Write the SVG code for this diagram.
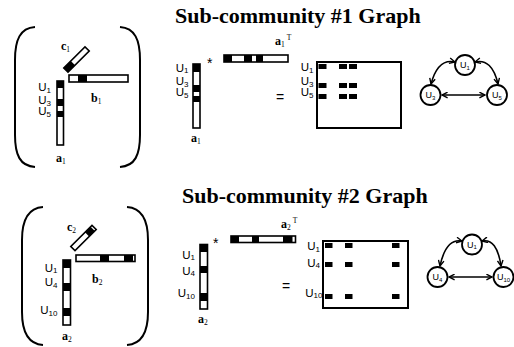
<svg xmlns="http://www.w3.org/2000/svg" width="514" height="347" viewBox="0 0 514 347">
<style>
.title{font-family:"Liberation Serif",serif;font-weight:bold;font-size:22px;fill:#000}
.bl{font-family:"Liberation Serif",serif;font-weight:bold;font-size:12px;fill:#000}
.bs{font-size:7.5px;font-weight:normal}
.u{font-family:"Liberation Sans",Arial,sans-serif;font-size:11.5px;fill:#000}
.us{font-size:8px}
.nu{font-family:"Liberation Sans",Arial,sans-serif;font-size:9px;fill:#000}
.nus{font-size:6px}
.op{font-family:"Liberation Sans",Arial,sans-serif;font-size:14px;fill:#000}
.brk{fill:none;stroke:#000;stroke-width:2}
.bar{fill:#fff;stroke:#000;stroke-width:1.6}
.blk{fill:#000}
.mat{fill:#fff;stroke:#000;stroke-width:2}
.nd{fill:#fff;stroke:#000;stroke-width:1.8}
.edge{fill:none;stroke:#000;stroke-width:1.6;marker-start:url(#ah);marker-end:url(#ah)}
</style>
<defs>
<marker id="ah" viewBox="0 0 10 10" refX="9" refY="5" markerWidth="7" markerHeight="7" markerUnits="userSpaceOnUse" orient="auto-start-reverse">
<path d="M1,1 L9,5 L1,9" fill="none" stroke="#000" stroke-width="2"/>
</marker>
</defs>

<!-- ===== Sub-community 1 ===== -->
<text class="title" x="175" y="23">Sub-community #1 Graph</text>

<g id="tensor1">
<path class="brk" d="M35,27 C20,28 15,40 15,60 L15,135 C15,155 20,166 35,167"/>
<path class="brk" d="M120,27 C135,28 140,40 140,60 L140,135 C140,155 135,166 120,167"/>
<g transform="translate(76.5,59.5) rotate(-45)">
<rect class="bar" x="-15" y="-3" width="30" height="6"/>
<rect class="blk" x="-15" y="-3" width="10" height="6"/>
</g>
<text class="bl" x="61" y="50">c<tspan class="bs" dy="2">1</tspan></text>
<rect class="bar" x="69" y="75" width="59" height="7"/>
<rect class="blk" x="78" y="75" width="9" height="7"/>
<text class="bl" x="91" y="102">b<tspan class="bs" dy="2">1</tspan></text>
<rect class="bar" x="57" y="81" width="6.5" height="64"/>
<rect class="blk" x="57" y="81" width="6.5" height="7"/>
<rect class="blk" x="57" y="99" width="6.5" height="7"/>
<rect class="blk" x="57" y="111" width="6.5" height="6"/>
<text class="u" x="51" y="91" text-anchor="end">U<tspan class="us" dy="1.5">1</tspan></text>
<text class="u" x="51" y="104" text-anchor="end">U<tspan class="us" dy="1.5">3</tspan></text>
<text class="u" x="51" y="115" text-anchor="end">U<tspan class="us" dy="1.5">5</tspan></text>
<text class="bl" x="56" y="162">a<tspan class="bs" dy="2">1</tspan></text>
</g>

<g id="product1">
<rect class="bar" x="193" y="64" width="7" height="64"/>
<rect class="blk" x="193" y="64" width="7" height="8"/>
<rect class="blk" x="193" y="85" width="7" height="7"/>
<rect class="blk" x="193" y="96" width="7" height="6"/>
<text class="u" x="188.5" y="71.5" text-anchor="end">U<tspan class="us" dy="1.5">1</tspan></text>
<text class="u" x="188.5" y="85" text-anchor="end">U<tspan class="us" dy="1.5">3</tspan></text>
<text class="u" x="188.5" y="96" text-anchor="end">U<tspan class="us" dy="1.5">5</tspan></text>
<text class="bl" x="191" y="142">a<tspan class="bs" dy="2">1</tspan></text>
<text class="op" x="207" y="68">*</text>
<rect class="bar" x="224" y="55" width="64" height="7"/>
<rect class="blk" x="224" y="55" width="8" height="7"/>
<rect class="blk" x="244" y="55" width="8" height="7"/>
<rect class="blk" x="256" y="55" width="7" height="7"/>
<text class="bl" x="275" y="45">a<tspan class="bs" dy="2">1</tspan><tspan class="bs" dy="-7" dx="2">T</tspan></text>
<text class="op" x="276" y="102">=</text>
</g>

<g id="matrix1">
<rect class="mat" x="317" y="62" width="84" height="66"/>
<rect class="blk" x="318.5" y="64" width="8" height="5"/>
<rect class="blk" x="339" y="64" width="8" height="5"/>
<rect class="blk" x="349" y="64" width="8" height="5"/>
<rect class="blk" x="318.5" y="83" width="8" height="5"/>
<rect class="blk" x="339" y="83" width="8" height="5"/>
<rect class="blk" x="349" y="83" width="8" height="5"/>
<rect class="blk" x="318.5" y="94" width="8" height="5"/>
<rect class="blk" x="339" y="94" width="8" height="5"/>
<rect class="blk" x="349" y="94" width="8" height="5"/>
<text class="u" x="313.5" y="71" text-anchor="end">U<tspan class="us" dy="1.5">1</tspan></text>
<text class="u" x="313.5" y="85" text-anchor="end">U<tspan class="us" dy="1.5">3</tspan></text>
<text class="u" x="313.5" y="96" text-anchor="end">U<tspan class="us" dy="1.5">5</tspan></text>
</g>

<g id="g1-connectors">
<path class="edge" d="M455,62 Q438,58 431,84"/>
<path class="edge" d="M475,62 Q492,58 498,84"/>
<path class="edge" d="M442,95 L485,95"/>
</g>
<g id="g1-u1"><circle class="nd" cx="465" cy="65" r="10"/><text class="nu" x="465" y="68" text-anchor="middle">U<tspan class="nus" dy="1.5">1</tspan></text></g>
<g id="g1-u3"><circle class="nd" cx="430.5" cy="95" r="10"/><text class="nu" x="430.5" y="98" text-anchor="middle">U<tspan class="nus" dy="1.5">3</tspan></text></g>
<g id="g1-u5"><circle class="nd" cx="497" cy="95" r="10"/><text class="nu" x="497" y="98" text-anchor="middle">U<tspan class="nus" dy="1.5">5</tspan></text></g>

<!-- ===== Sub-community 2 ===== -->
<text class="title" x="182" y="203">Sub-community #2 Graph</text>

<g id="tensor2">
<path class="brk" d="M43,207 C28,208 22,220 22,240 L22,312 C22,332 28,344 43,345"/>
<path class="brk" d="M127,207 C142,208 148,220 148,240 L148,312 C148,332 142,344 127,345"/>
<g transform="translate(83.5,238) rotate(-45)">
<rect class="bar" x="-15" y="-3" width="30" height="6"/>
<rect class="blk" x="5" y="-3" width="8" height="6"/>
</g>
<text class="bl" x="67" y="231">c<tspan class="bs" dy="2">2</tspan></text>
<rect class="bar" x="76" y="255" width="59" height="6.5"/>
<rect class="blk" x="100" y="255" width="9" height="6.5"/>
<rect class="blk" x="124" y="255" width="9" height="6.5"/>
<text class="bl" x="92" y="283">b<tspan class="bs" dy="2">2</tspan></text>
<rect class="bar" x="63" y="260" width="7.5" height="65"/>
<rect class="blk" x="63" y="260" width="7.5" height="8"/>
<rect class="blk" x="63" y="283" width="7.5" height="8"/>
<rect class="blk" x="63" y="308" width="7.5" height="8"/>
<text class="u" x="57.5" y="271.5" text-anchor="end">U<tspan class="us" dy="1.5">1</tspan></text>
<text class="u" x="57.5" y="286" text-anchor="end">U<tspan class="us" dy="1.5">4</tspan></text>
<text class="u" x="57.5" y="314" text-anchor="end">U<tspan class="us" dy="1.5">10</tspan></text>
<text class="bl" x="62" y="340">a<tspan class="bs" dy="2">2</tspan></text>
</g>

<g id="product2">
<rect class="bar" x="200" y="244.5" width="7.5" height="64.5"/>
<rect class="blk" x="200" y="244.5" width="7.5" height="7.5"/>
<rect class="blk" x="200" y="266" width="7.5" height="7"/>
<rect class="blk" x="200" y="293" width="7.5" height="8"/>
<text class="u" x="195" y="258.5" text-anchor="end">U<tspan class="us" dy="1.5">1</tspan></text>
<text class="u" x="195" y="274.5" text-anchor="end">U<tspan class="us" dy="1.5">4</tspan></text>
<text class="u" x="195" y="297" text-anchor="end">U<tspan class="us" dy="1.5">10</tspan></text>
<text class="bl" x="198" y="323">a<tspan class="bs" dy="2">2</tspan></text>
<text class="op" x="213" y="248">*</text>
<rect class="bar" x="231" y="236" width="64.5" height="6.5"/>
<rect class="blk" x="231" y="236" width="8" height="6.5"/>
<rect class="blk" x="252" y="236" width="7" height="6.5"/>
<rect class="blk" x="283" y="236" width="9.5" height="6.5"/>
<text class="bl" x="281" y="228">a<tspan class="bs" dy="2">2</tspan><tspan class="bs" dy="-7" dx="2">T</tspan></text>
<text class="op" x="282" y="290.5">=</text>
</g>

<g id="matrix2">
<rect class="mat" x="323" y="241" width="85" height="67"/>
<rect class="blk" x="325" y="243" width="7.5" height="5"/>
<rect class="blk" x="345" y="243" width="7.5" height="5"/>
<rect class="blk" x="392" y="243" width="7.5" height="5"/>
<rect class="blk" x="325" y="262" width="7.5" height="5"/>
<rect class="blk" x="345" y="262" width="7.5" height="5"/>
<rect class="blk" x="392" y="262" width="7.5" height="5"/>
<rect class="blk" x="325" y="294" width="7.5" height="5"/>
<rect class="blk" x="345" y="294" width="7.5" height="5"/>
<rect class="blk" x="392" y="294" width="7.5" height="5"/>
<text class="u" x="320" y="250" text-anchor="end">U<tspan class="us" dy="1.5">1</tspan></text>
<text class="u" x="320" y="266.5" text-anchor="end">U<tspan class="us" dy="1.5">4</tspan></text>
<text class="u" x="322.5" y="296.5" text-anchor="end">U<tspan class="us" dy="1.5">10</tspan></text>
</g>

<g id="g2-connectors">
<path class="edge" d="M462,241 Q446,238 440,266"/>
<path class="edge" d="M482,241 Q497,238 501,266"/>
<path class="edge" d="M449,277 L492,277"/>
</g>
<g id="g2-u1"><circle class="nd" cx="472" cy="244.5" r="10"/><text class="nu" x="472" y="247.5" text-anchor="middle">U<tspan class="nus" dy="1.5">1</tspan></text></g>
<g id="g2-u4"><circle class="nd" cx="437.5" cy="277" r="10"/><text class="nu" x="437.5" y="280" text-anchor="middle">U<tspan class="nus" dy="1.5">4</tspan></text></g>
<g id="g2-u10"><circle class="nd" cx="503.5" cy="277" r="10"/><text class="nu" x="503.5" y="280" text-anchor="middle">U<tspan class="nus" dy="1.5">10</tspan></text></g>
</svg>
